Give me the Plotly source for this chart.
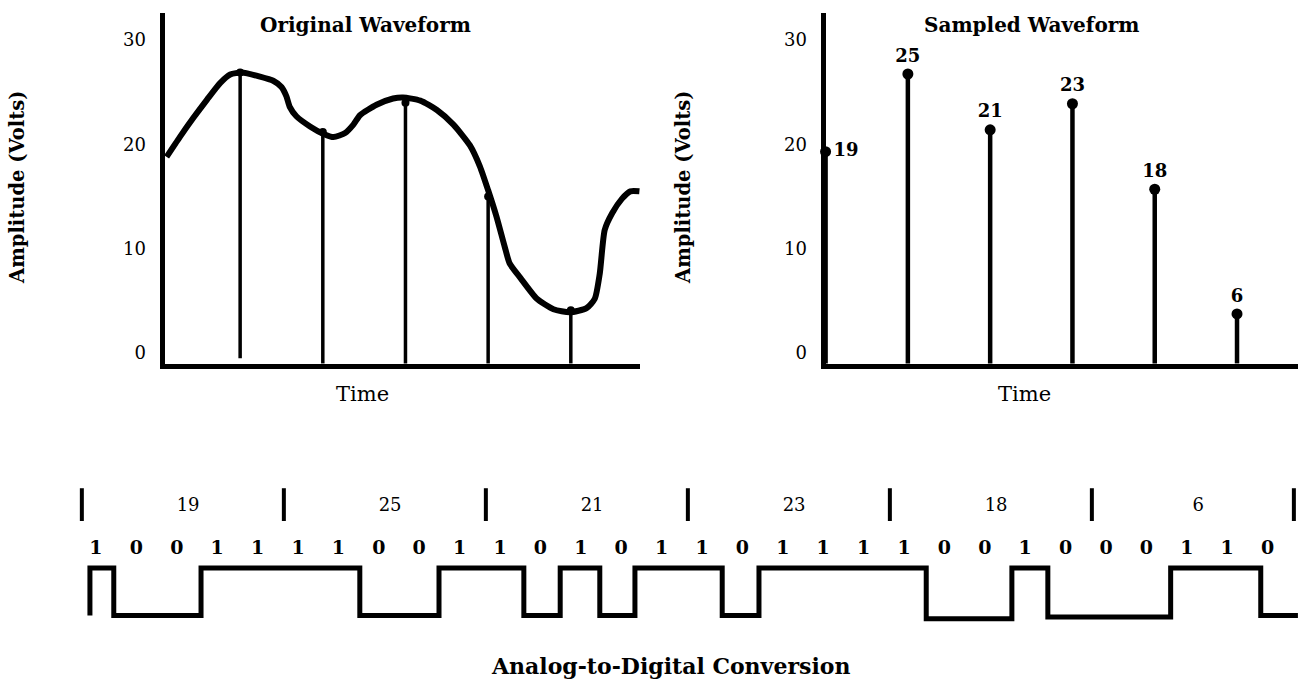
import plotly.graph_objects as go

# ---------------- data ----------------
# analog waveform (time in sample periods, amplitude in volts)
wave_t = [0.11, 0.27, 0.43, 0.60, 0.76, 0.88, 1.02, 1.24, 1.40, 1.50, 1.56, 1.60, 1.68,
          1.85, 2.01, 2.13, 2.27, 2.37, 2.45, 2.65, 2.85, 2.97, 3.18, 3.38, 3.58, 3.78,
          3.90, 4.00, 4.10, 4.20, 4.26, 4.39, 4.59, 4.79, 4.99, 5.19, 5.29, 5.35, 5.41,
          5.50, 5.62, 5.72, 5.83]
wave_v = [18.8, 20.7, 22.5, 24.3, 25.9, 26.7, 26.9, 26.5, 26.1, 25.5, 24.6, 23.6, 22.7,
          21.7, 21.0, 20.7, 21.1, 21.9, 22.8, 23.8, 24.4, 24.5, 24.2, 23.3, 21.9, 19.9,
          17.9, 15.6, 13.1, 10.2, 8.6, 7.2, 5.2, 4.2, 3.9, 4.3, 5.2, 7.6, 11.8,
          13.4, 14.8, 15.5, 15.5]

# sample lines on the original waveform
orig_sample_t = [1, 2, 3, 4, 5]
orig_sample_top = [26.9, 21.2, 24.0, 15.0, 4.1]
orig_sample_base = [-0.5, -1.0, -1.0, -1.0, -1.0]

# sampled waveform
sample_t = [0, 1, 2, 3, 4, 5]
sample_height = [19.3, 26.75, 21.4, 23.9, 15.7, 3.75]
sample_code = [19, 25, 21, 23, 18, 6]

y_ticks = [0, 10, 20, 30]

# digital waveform: edges of each constant run (in bit periods) and run levels
edge_u = [-0.15, 0.44, 2.60, 6.53, 8.49, 10.59, 11.49, 12.47, 13.34, 15.50,
          16.41, 20.55, 22.67, 23.56, 26.60, 28.83, 29.75]
run_level = [1, 0, 1, 0, 1, 0, 1, 0, 1, 0, 1, -0.07, 1, -0.03, 1, 0]

BITS_PER_CODE = 5

# ---------------- helpers ----------------
W, H = 1298, 686
def dx(px):
    return px / W
def dy(py):
    return 1 - py / H

SERIF = "DejaVu Serif"
BLACK = "#000000"

fig = go.Figure()

# ---- left panel: original waveform ----
sx, sy = [], []
for t, top, base in zip(orig_sample_t, orig_sample_top, orig_sample_base):
    sx += [t, t, None]
    sy += [base, top, None]
fig.add_trace(go.Scatter(x=sx, y=sy, mode="lines", line=dict(color=BLACK, width=3.5),
                         xaxis="x", yaxis="y", hoverinfo="skip", showlegend=False))
fig.add_trace(go.Scatter(x=orig_sample_t, y=orig_sample_top, mode="markers",
                         marker=dict(color=BLACK, size=8),
                         xaxis="x", yaxis="y", showlegend=False))
fig.add_trace(go.Scatter(x=wave_t, y=wave_v, mode="lines",
                         line=dict(color=BLACK, width=6, shape="spline", smoothing=0.6),
                         xaxis="x", yaxis="y", showlegend=False, cliponaxis=False))

# ---- right panel: sampled waveform ----
sx, sy = [], []
for t, h in zip(sample_t, sample_height):
    sx += [t, t, None]
    sy += [-1.0, h, None]
fig.add_trace(go.Scatter(x=sx, y=sy, mode="lines", line=dict(color=BLACK, width=4.5),
                         xaxis="x2", yaxis="y2", hoverinfo="skip", showlegend=False,
                         cliponaxis=False))
text_pos = ["middle right"] + ["top center"] * (len(sample_code) - 1)
fig.add_trace(go.Scatter(x=sample_t, y=sample_height, mode="markers+text",
                         marker=dict(color=BLACK, size=11),
                         text=[str(c) for c in sample_code],
                         textposition=text_pos,
                         textfont=dict(family=SERIF, size=18, color=BLACK, weight="bold"),
                         xaxis="x2", yaxis="y2", showlegend=False, cliponaxis=False))

# ---- bottom panel: digital conversion ----
bits = "".join(format(c, f"0{BITS_PER_CODE}b") for c in sample_code)
n_codes = len(sample_code)
BAR_OFFSET = -0.35
GROUP_LABEL_OFFSET = 2.28
BAR_Y = (1.99, 2.68)
GROUP_Y = 2.30
BIT_Y = 1.40

bx, by = [], []
for k in range(n_codes + 1):
    xb = k * BITS_PER_CODE + BAR_OFFSET
    bx += [xb, xb, None]
    by += [BAR_Y[0], BAR_Y[1], None]
fig.add_trace(go.Scatter(x=bx, y=by, mode="lines", line=dict(color=BLACK, width=4),
                         xaxis="x3", yaxis="y3", hoverinfo="skip", showlegend=False))
fig.add_trace(go.Scatter(x=[k * BITS_PER_CODE + GROUP_LABEL_OFFSET for k in range(n_codes)],
                         y=[GROUP_Y] * n_codes, mode="text",
                         text=[str(c) for c in sample_code],
                         textfont=dict(family=SERIF, size=18, color=BLACK),
                         xaxis="x3", yaxis="y3", showlegend=False))
fig.add_trace(go.Scatter(x=list(range(len(bits))), y=[BIT_Y] * len(bits), mode="text",
                         text=list(bits),
                         textfont=dict(family=SERIF, size=19, color=BLACK, weight="bold"),
                         xaxis="x3", yaxis="y3", showlegend=False))
dig_x = [edge_u[0]] + edge_u
dig_y = [0] + run_level + [run_level[-1]]
fig.add_trace(go.Scatter(x=dig_x, y=dig_y, mode="lines",
                         line=dict(color=BLACK, width=5, shape="hv"),
                         xaxis="x3", yaxis="y3", showlegend=False, cliponaxis=False))

# ---------------- layout ----------------
tickfont = dict(family=SERIF, size=18, color=BLACK)
common_y = dict(range=[-1.055, 32.6], tickvals=y_ticks, tickfont=tickfont,
                showline=True, linewidth=5, linecolor=BLACK, showgrid=False,
                zeroline=False, ticks="", ticklabelstandoff=10, fixedrange=True)
common_x = dict(showline=True, linewidth=5, linecolor=BLACK, showgrid=False,
                zeroline=False, showticklabels=False, ticks="", fixedrange=True)

fig.update_layout(
    width=W, height=H,
    margin=dict(l=0, r=0, t=0, b=0),
    paper_bgcolor="white", plot_bgcolor="white",
    showlegend=False,
    font=dict(family=SERIF, color=BLACK),
    xaxis=dict(domain=[dx(164.5), dx(640)], range=[0.085, 5.837], anchor="y", **common_x),
    yaxis=dict(domain=[dy(364), dy(13)], anchor="x", **common_y),
    xaxis2=dict(domain=[dx(825.5), 1.0], range=[-0.001, 5.741], anchor="y2", **common_x),
    yaxis2=dict(domain=[dy(364), dy(13)], anchor="x2", **common_y),
    xaxis3=dict(domain=[0, 1], range=[-2.376, 29.752], anchor="y3", visible=False, fixedrange=True),
    yaxis3=dict(domain=[dy(630), dy(480)], range=[-0.305, 2.853], anchor="x3", visible=False, fixedrange=True),
)

bold = dict(family=SERIF, size=20, color=BLACK, weight="bold")
annots = [
    dict(text="Original Waveform", x=dx(366), y=dy(25), font=bold),
    dict(text="Sampled Waveform", x=dx(1032), y=dy(25), font=bold),
    dict(text="Amplitude (Volts)", x=dx(18), y=dy(188), textangle=-90,
         font=dict(family=SERIF, size=19.5, color=BLACK, weight="bold")),
    dict(text="Amplitude (Volts)", x=dx(684), y=dy(188), textangle=-90,
         font=dict(family=SERIF, size=19.5, color=BLACK, weight="bold")),
    dict(text="Time", x=dx(362), y=dy(394), font=dict(family=SERIF, size=21, color=BLACK)),
    dict(text="Time", x=dx(1024), y=dy(394), font=dict(family=SERIF, size=21, color=BLACK)),
    dict(text="Analog-to-Digital Conversion", x=dx(671), y=dy(666),
         font=dict(family=SERIF, size=22, color=BLACK, weight="bold")),
]
for a in annots:
    fig.add_annotation(xref="paper", yref="paper", xanchor="center", yanchor="middle",
                       showarrow=False, **a)

fig.write_html("out.html", config={"displayModeBar": False},
               post_script="document.body.style.margin='0px';")
